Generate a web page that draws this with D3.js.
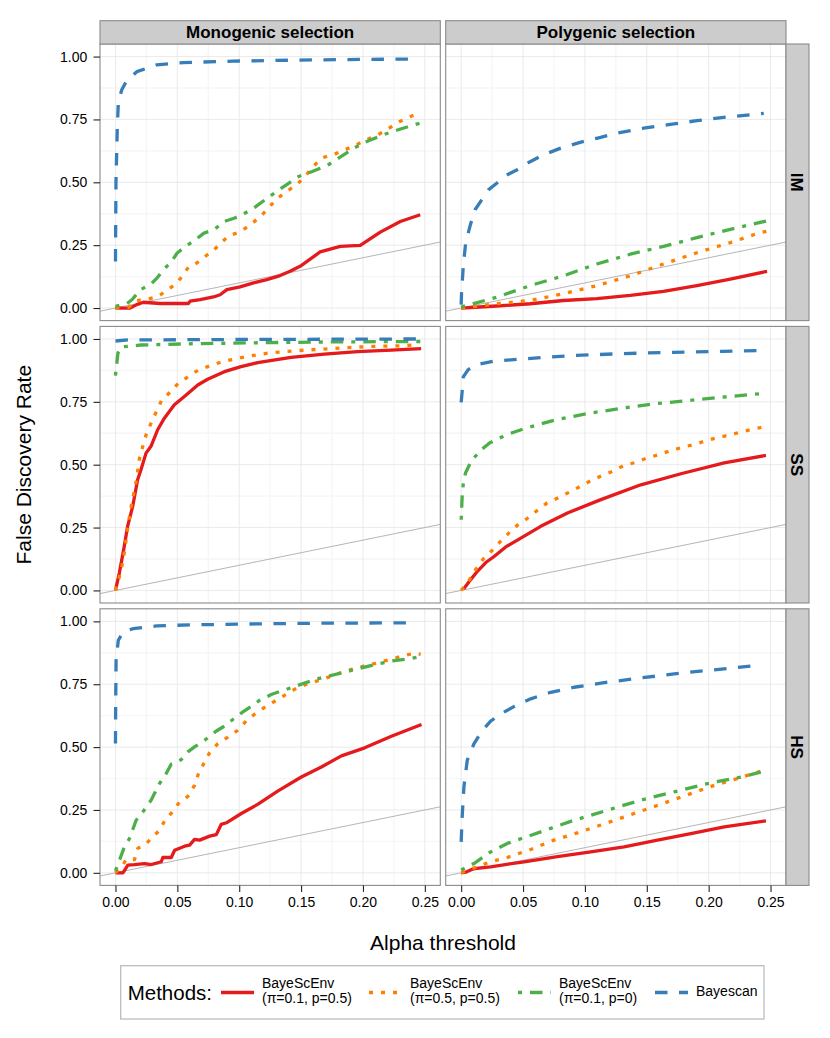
<!DOCTYPE html>
<html><head><meta charset="utf-8">
<script src="https://cdn.jsdelivr.net/npm/d3@7"></script>
<style>body{margin:0;background:#fff}svg{display:block}</style>
</head><body>
<svg id="c" width="830" height="1038"></svg>
<script>
// ---------- categories & ticks ----------
const colLabels = ["Monogenic selection", "Polygenic selection"];
const rowLabels = ["IM", "SS", "HS"];
const methodLines = [["BayeScEnv", "(\u03c0=0.1, p=0.5)"], ["BayeScEnv", "(\u03c0=0.5, p=0.5)"], ["BayeScEnv", "(\u03c0=0.1, p=0)"], ["Bayescan"]];
const legendTitle = "Methods:";
const xTicks = [0, 0.05, 0.10, 0.15, 0.20, 0.25];
const yTicks = [0, 0.25, 0.50, 0.75, 1.00];
const xTitle = "Alpha threshold";
const yTitle = "False Discovery Rate";

// ---------- data: [alpha, FDR] ----------
// IM, monogenic
const imMonoRed = [[0,0],[0.0118,0],[0.0172,0.0135],[0.0225,0.023],[0.036,0.018],[0.0589,0.018],[0.0603,0.027],[0.0684,0.033],[0.0792,0.044],[0.0846,0.053],[0.09,0.073],[0.1007,0.084],[0.1115,0.1],[0.1223,0.113],[0.133,0.129],[0.1411,0.146],[0.1492,0.166],[0.1654,0.223],[0.1816,0.245],[0.1978,0.249],[0.214,0.302],[0.2302,0.344],[0.2463,0.371]];
const imMonoOrange = [[0,0],[0.0108,0.003],[0.0172,0.03],[0.0253,0.034],[0.0347,0.047],[0.048,0.093],[0.0535,0.123],[0.0589,0.162],[0.0657,0.179],[0.0724,0.205],[0.0792,0.229],[0.085,0.258],[0.092,0.289],[0.1007,0.302],[0.1088,0.331],[0.1169,0.362],[0.1236,0.398],[0.1304,0.434],[0.1385,0.464],[0.1466,0.491],[0.1533,0.524],[0.16,0.564],[0.1668,0.597],[0.1762,0.61],[0.1857,0.63],[0.1943,0.648],[0.2032,0.67],[0.2126,0.69],[0.2207,0.714],[0.2293,0.741],[0.2382,0.761],[0.2463,0.78]];
const imMonoGreen = [[0,0.007],[0.0094,0.018],[0.0135,0.034],[0.0202,0.073],[0.0283,0.093],[0.0337,0.12],[0.0391,0.155],[0.0445,0.179],[0.0499,0.219],[0.0567,0.245],[0.0648,0.272],[0.0715,0.298],[0.0796,0.311],[0.0877,0.344],[0.0958,0.357],[0.1025,0.371],[0.1119,0.398],[0.1227,0.437],[0.1321,0.47],[0.1402,0.497],[0.1469,0.521],[0.159,0.543],[0.1712,0.567],[0.1806,0.597],[0.1927,0.636],[0.2035,0.663],[0.217,0.69],[0.2304,0.712],[0.2466,0.736]];
const imMonoBlue = [[0,0.185],[0.0004,0.5],[0.0015,0.72],[0.0023,0.815],[0.005,0.867],[0.009,0.904],[0.0173,0.94],[0.0333,0.967],[0.055,0.976],[0.0953,0.982],[0.149,0.986],[0.203,0.989],[0.2437,0.99]];
// IM, polygenic
const imPolyRed = [[0,0],[0.015,0.004],[0.0287,0.008],[0.0557,0.017],[0.0826,0.03],[0.1096,0.037],[0.1366,0.05],[0.1635,0.066],[0.1905,0.089],[0.2175,0.115],[0.2472,0.146]];
const imPolyOrange = [[0,0],[0.0287,0.017],[0.0557,0.03],[0.0826,0.057],[0.1096,0.089],[0.1366,0.128],[0.1635,0.175],[0.1905,0.22],[0.2175,0.26],[0.2403,0.298],[0.2466,0.305]];
const imPolyGreen = [[0,0.004],[0.0287,0.043],[0.0557,0.089],[0.0826,0.128],[0.1096,0.175],[0.1366,0.214],[0.1635,0.245],[0.1905,0.28],[0.2175,0.313],[0.2466,0.346]];
const imPolyBlue = [[0,0.0135],[0.0003,0.06],[0.0017,0.166],[0.0036,0.258],[0.0071,0.325],[0.0112,0.391],[0.0166,0.43],[0.022,0.47],[0.0287,0.496],[0.0368,0.529],[0.0449,0.549],[0.0557,0.582],[0.0665,0.609],[0.0799,0.635],[0.0961,0.659],[0.1096,0.675],[0.1258,0.695],[0.1474,0.715],[0.1689,0.73],[0.1905,0.745],[0.2121,0.758],[0.231,0.767],[0.2445,0.774]];
// SS, monogenic
const ssMonoRed = [[0,0],[0.0031,0.069],[0.0071,0.175],[0.0098,0.255],[0.0139,0.334],[0.0179,0.44],[0.0206,0.48],[0.0247,0.546],[0.0287,0.573],[0.0341,0.639],[0.0395,0.685],[0.0476,0.738],[0.0557,0.771],[0.0665,0.817],[0.0745,0.84],[0.088,0.87],[0.1015,0.89],[0.1149,0.906],[0.1419,0.927],[0.1688,0.94],[0.1958,0.95],[0.2227,0.956],[0.247,0.962]];
const ssMonoOrange = [[0,0],[0.0028,0.048],[0.0052,0.097],[0.0074,0.157],[0.0101,0.256],[0.0128,0.336],[0.0168,0.436],[0.0195,0.529],[0.0249,0.621],[0.029,0.668],[0.0371,0.754],[0.0438,0.787],[0.0506,0.823],[0.0587,0.85],[0.0668,0.876],[0.0762,0.893],[0.0857,0.909],[0.1046,0.929],[0.1234,0.944],[0.145,0.953],[0.1746,0.962],[0.2042,0.97],[0.2325,0.973],[0.2447,0.977]];
const ssMonoGreen = [[0,0.854],[0.001,0.9],[0.002,0.944],[0.0044,0.968],[0.0206,0.976],[0.061,0.981],[0.1149,0.985],[0.1688,0.988],[0.247,0.99]];
const ssMonoBlue = [[0,0.992],[0.01,0.996],[0.1,0.998],[0.2465,1.0]];
// SS, polygenic
const ssPolyRed = [[0.002,0.006],[0.0077,0.043],[0.0131,0.076],[0.0199,0.111],[0.0266,0.135],[0.036,0.173],[0.0482,0.208],[0.0643,0.255],[0.0859,0.308],[0.1129,0.361],[0.1452,0.42],[0.1776,0.464],[0.2126,0.507],[0.2463,0.537]];
const ssPolyOrange = [[0,0],[0.0068,0.043],[0.0116,0.082],[0.0178,0.125],[0.025,0.159],[0.0318,0.195],[0.0385,0.228],[0.0458,0.261],[0.0539,0.288],[0.0614,0.318],[0.0695,0.348],[0.079,0.37],[0.087,0.39],[0.0965,0.414],[0.1046,0.436],[0.114,0.457],[0.1234,0.476],[0.1315,0.497],[0.1409,0.509],[0.1504,0.527],[0.1598,0.54],[0.1693,0.556],[0.1787,0.569],[0.1895,0.582],[0.1989,0.597],[0.2083,0.609],[0.2178,0.619],[0.2272,0.632],[0.2461,0.652]];
const ssPolyGreen = [[0,0.281],[0.0008,0.374],[0.0016,0.42],[0.0035,0.467],[0.008,0.513],[0.0148,0.553],[0.0229,0.586],[0.0364,0.619],[0.0526,0.646],[0.0768,0.679],[0.1038,0.705],[0.1308,0.725],[0.1577,0.743],[0.1847,0.756],[0.2117,0.769],[0.2413,0.782]];
const ssPolyBlue = [[0,0.748],[0.0008,0.792],[0.0017,0.849],[0.0057,0.878],[0.0125,0.898],[0.026,0.911],[0.0503,0.921],[0.0907,0.934],[0.1312,0.942],[0.1716,0.947],[0.212,0.951],[0.2444,0.954]];
// HS, monogenic
const hsMonoRed = [[0,0],[0.006,0],[0.01,0.031],[0.0154,0.033],[0.0235,0.037],[0.0289,0.033],[0.037,0.044],[0.0383,0.061],[0.0451,0.061],[0.0478,0.09],[0.0559,0.106],[0.0599,0.11],[0.0639,0.133],[0.068,0.13],[0.0761,0.146],[0.0815,0.152],[0.0855,0.193],[0.0896,0.199],[0.1017,0.236],[0.1152,0.273],[0.1314,0.326],[0.1502,0.381],[0.1664,0.421],[0.1826,0.465],[0.2014,0.497],[0.223,0.543],[0.2473,0.59]];
const hsMonoOrange = [[0,0],[0.0059,0.03],[0.0086,0.053],[0.0154,0.053],[0.018,0.097],[0.0248,0.116],[0.0302,0.143],[0.0356,0.169],[0.0396,0.206],[0.0464,0.245],[0.0518,0.282],[0.0585,0.304],[0.0639,0.348],[0.0671,0.395],[0.0714,0.435],[0.076,0.477],[0.0828,0.514],[0.0903,0.538],[0.0989,0.567],[0.1057,0.604],[0.1129,0.633],[0.1218,0.662],[0.1299,0.686],[0.138,0.71],[0.1469,0.736],[0.1555,0.752],[0.1649,0.766],[0.1744,0.782],[0.1838,0.799],[0.1932,0.812],[0.2027,0.825],[0.2121,0.835],[0.2215,0.848],[0.231,0.861],[0.2418,0.874],[0.2466,0.869]];
const hsMonoGreen = [[0,0.008],[0.0032,0.05],[0.0072,0.103],[0.0113,0.136],[0.0167,0.209],[0.0221,0.242],[0.0288,0.289],[0.0315,0.315],[0.0356,0.355],[0.041,0.395],[0.045,0.432],[0.0531,0.45],[0.0585,0.481],[0.0639,0.501],[0.072,0.527],[0.0815,0.564],[0.0869,0.58],[0.0949,0.61],[0.103,0.64],[0.1097,0.662],[0.1165,0.686],[0.1259,0.709],[0.134,0.723],[0.1421,0.736],[0.1529,0.755],[0.1637,0.772],[0.1745,0.785],[0.1852,0.798],[0.196,0.812],[0.2095,0.828],[0.223,0.842],[0.2365,0.851],[0.2473,0.861]];
const hsMonoBlue = [[0,0.514],[0.0002,0.686],[0.0005,0.845],[0.0023,0.925],[0.0063,0.958],[0.0144,0.971],[0.0333,0.982],[0.0603,0.986],[0.1142,0.99],[0.1681,0.993],[0.2422,0.994]];
// HS, polygenic
const hsPolyRed = [[0,0],[0.004,0.003],[0.0103,0.017],[0.0238,0.024],[0.0508,0.044],[0.0777,0.064],[0.1047,0.083],[0.1317,0.103],[0.1586,0.13],[0.1856,0.156],[0.2126,0.183],[0.2463,0.207]];
const hsPolyOrange = [[0,0],[0.0089,0.017],[0.0238,0.044],[0.0373,0.061],[0.0562,0.093],[0.075,0.13],[0.0939,0.159],[0.1128,0.19],[0.1317,0.222],[0.1492,0.252],[0.1667,0.282],[0.1856,0.315],[0.2045,0.348],[0.2234,0.375],[0.2423,0.405]];
const hsPolyGreen = [[0,0.011],[0.0103,0.037],[0.0238,0.083],[0.0373,0.117],[0.0643,0.163],[0.0912,0.209],[0.1182,0.249],[0.1451,0.289],[0.1721,0.322],[0.1991,0.355],[0.2261,0.381],[0.2463,0.405]];
const hsPolyBlue = [[0,0.123],[0.0008,0.222],[0.0022,0.341],[0.0049,0.447],[0.0103,0.513],[0.017,0.566],[0.0238,0.603],[0.0319,0.632],[0.0427,0.661],[0.0562,0.692],[0.0724,0.718],[0.0912,0.738],[0.1182,0.758],[0.1451,0.775],[0.1721,0.791],[0.1991,0.805],[0.2207,0.815],[0.2423,0.827]];

// ---------- styles ----------
const methodColors = ["#E41A1C", "#FF7F00", "#4DAF4A", "#377EB8"];
const methodDash = [null, "4,8", "4,8,12.5,8", "12.5,11.5"];
const FONT = "'Liberation Sans', Arial, Helvetica, sans-serif";

const panelData = [
  [[imMonoRed, imMonoOrange, imMonoGreen, imMonoBlue], [imPolyRed, imPolyOrange, imPolyGreen, imPolyBlue]],
  [[ssMonoRed, ssMonoOrange, ssMonoGreen, ssMonoBlue], [ssPolyRed, ssPolyOrange, ssPolyGreen, ssPolyBlue]],
  [[hsMonoRed, hsMonoOrange, hsMonoGreen, hsMonoBlue], [hsPolyRed, hsPolyOrange, hsPolyGreen, hsPolyBlue]]
];

// ---------- layout ----------
const svg = d3.select("#c").style("font-family", FONT);
const colX = [100, 445.7], rowY = [44, 326.4, 608.8];
const pw = 340.3, ph = 276.6;
const stripTop = 20.7, stripH = 23.3, stripRX = 786, stripW = 23;
const LW = 3.3;

const x = d3.scaleLinear().domain([-0.0125, 0.2625]).range([0, pw]);
const y = d3.scaleLinear().domain([-0.05, 1.05]).range([ph, 0]);
const line = d3.line().x(d => x(d[0])).y(d => y(d[1]));

const xMinor = [0.025, 0.075, 0.125, 0.175, 0.225];
const yMinor = [0.125, 0.375, 0.625, 0.875];

const defs = svg.append("defs");
defs.append("clipPath").attr("id", "pclip").append("rect").attr("width", pw).attr("height", ph);

rowLabels.forEach((rl, r) => {
  colLabels.forEach((cl, c) => {
    const g = svg.append("g").attr("transform", `translate(${colX[c]},${rowY[r]})`);
    g.append("rect").attr("width", pw).attr("height", ph).attr("fill", "#fff");
    const grid = g.append("g").attr("clip-path", "url(#pclip)");
    grid.selectAll(".xm").data(xMinor).join("line").attr("x1", d => x(d)).attr("x2", d => x(d)).attr("y1", 0).attr("y2", ph).attr("stroke", "#f6f6f6").attr("stroke-width", 1.3);
    grid.selectAll(".ym").data(yMinor).join("line").attr("y1", d => y(d)).attr("y2", d => y(d)).attr("x1", 0).attr("x2", pw).attr("stroke", "#f6f6f6").attr("stroke-width", 1.3);
    grid.selectAll(".xM").data(xTicks).join("line").attr("x1", d => x(d)).attr("x2", d => x(d)).attr("y1", 0).attr("y2", ph).attr("stroke", "#e5e5e5").attr("stroke-width", 0.8);
    grid.selectAll(".yM").data(yTicks).join("line").attr("y1", d => y(d)).attr("y2", d => y(d)).attr("x1", 0).attr("x2", pw).attr("stroke", "#e5e5e5").attr("stroke-width", 0.8);
    // y = x reference line
    const dom = x.domain();
    grid.append("path").attr("d", line([[dom[0], dom[0]], [dom[1], dom[1]]])).attr("stroke", "#b5b5b5").attr("stroke-width", 1).attr("fill", "none");
    panelData[r][c].forEach((ser, m) => {
      grid.append("path").attr("d", line(ser)).attr("fill", "none")
        .attr("stroke", methodColors[m]).attr("stroke-width", LW)
        .attr("stroke-dasharray", methodDash[m]).attr("stroke-linejoin", "round").attr("stroke-linecap", "butt");
    });
    g.append("rect").attr("width", pw).attr("height", ph).attr("fill", "none").attr("stroke", "#8a8a8a").attr("stroke-width", 1.1);

    if (c === 0) {
      const ax = g.append("g").call(d3.axisLeft(y).tickValues(yTicks).tickFormat(d3.format(".2f")).tickSize(6.5).tickPadding(6.2));
      ax.select(".domain").remove();
      ax.selectAll("line").attr("stroke", "#222").attr("stroke-width", 1.1);
      ax.selectAll("text").attr("font-size", 14).attr("fill", "#000").attr("font-family", FONT);
    }
    if (r === rowLabels.length - 1) {
      const ax = g.append("g").attr("transform", `translate(0,${ph})`).call(d3.axisBottom(x).tickValues(xTicks).tickFormat(d3.format(".2f")).tickSize(6.5).tickPadding(5.5));
      ax.select(".domain").remove();
      ax.selectAll("line").attr("stroke", "#222").attr("stroke-width", 1.1);
      ax.selectAll("text").attr("font-size", 14).attr("fill", "#000").attr("font-family", FONT);
    }
  });
});

// top strips
colLabels.forEach((cl, c) => {
  svg.append("rect").attr("x", colX[c]).attr("y", stripTop).attr("width", pw).attr("height", stripH)
    .attr("fill", "#cccccc").attr("stroke", "#8a8a8a").attr("stroke-width", 1.1);
  svg.append("text").attr("x", colX[c] + pw / 2).attr("y", stripTop + stripH / 2).attr("dy", "0.36em")
    .attr("text-anchor", "middle").attr("font-weight", "bold").attr("font-size", 17).text(cl);
});
// right strips
rowLabels.forEach((rl, r) => {
  svg.append("rect").attr("x", stripRX).attr("y", rowY[r]).attr("width", stripW).attr("height", ph)
    .attr("fill", "#cccccc").attr("stroke", "#8a8a8a").attr("stroke-width", 1.1);
  const cx = stripRX + stripW / 2, cy = rowY[r] + ph / 2;
  svg.append("text").attr("transform", `translate(${cx},${cy}) rotate(90)`).attr("dy", "0.36em")
    .attr("text-anchor", "middle").attr("font-weight", "bold").attr("font-size", 17).text(rl);
});

// axis titles
svg.append("text").attr("x", (colX[0] + colX[1] + pw) / 2).attr("y", 950).attr("text-anchor", "middle")
  .attr("font-size", 21).text(xTitle);
svg.append("text").attr("transform", `translate(30.5,${(rowY[0] + rowY[2] + ph) / 2}) rotate(-90)`)
  .attr("text-anchor", "middle").attr("font-size", 21).text(yTitle);

// legend
const lg = svg.append("g");
lg.append("rect").attr("x", 120.7).attr("y", 965.7).attr("width", 643.3).attr("height", 53.3)
  .attr("fill", "#fff").attr("stroke", "#bdbdbd").attr("stroke-width", 1.3);
lg.append("text").attr("x", 127.7).attr("y", 1000).attr("font-size", 20.5).text(legendTitle);
const keyX = [221, 369, 518, 655], keyY = 992.5, keyW = 33;
methodLines.forEach((lines, m) => {
  lg.append("line").attr("x1", keyX[m]).attr("x2", keyX[m] + keyW).attr("y1", keyY).attr("y2", keyY)
    .attr("stroke", methodColors[m]).attr("stroke-width", LW).attr("stroke-dasharray", methodDash[m]);
  const t = lg.append("text").attr("x", keyX[m] + 41).attr("font-size", 14);
  if (lines.length === 2) {
    t.append("tspan").attr("x", keyX[m] + 41).attr("y", 988.3).text(lines[0]);
    t.append("tspan").attr("x", keyX[m] + 41).attr("y", 1003.3).text(lines[1]);
  } else {
    t.attr("y", 995.8).text(lines[0]);
  }
});
</script>
</body></html>
